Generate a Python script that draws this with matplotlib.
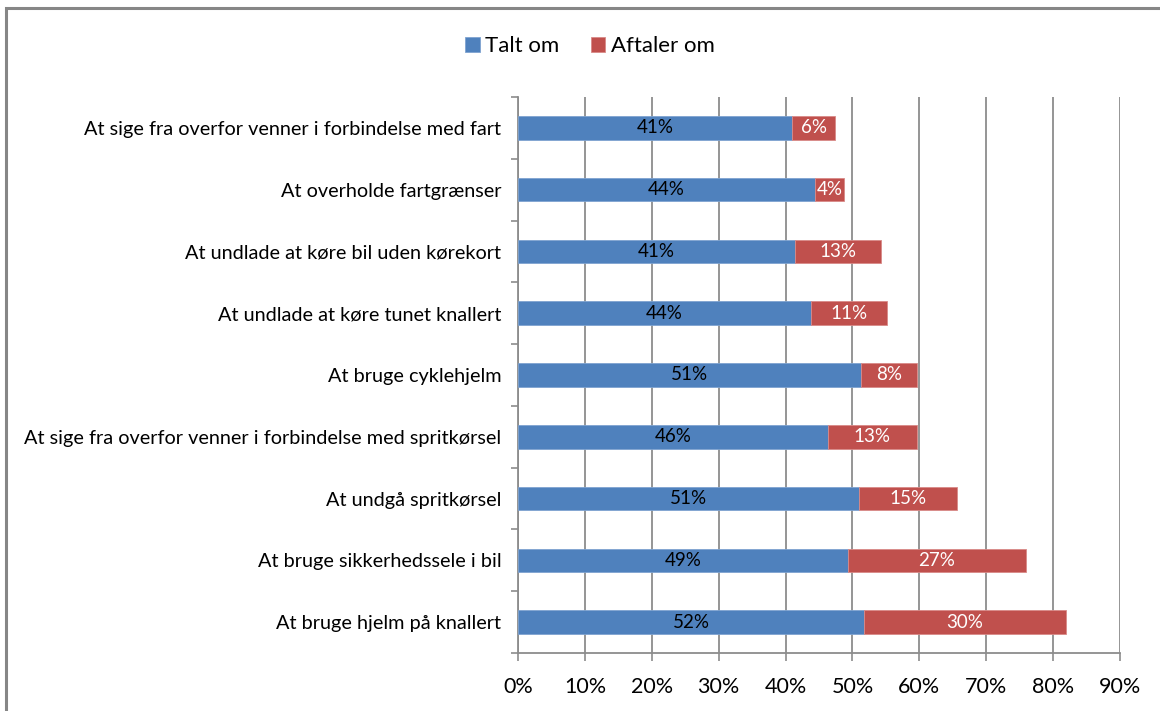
import matplotlib.pyplot as plt
from matplotlib.patches import Rectangle

plt.rcParams['font.family'] = ['Lato', 'DejaVu Sans']

categories = [
    "At sige fra overfor venner i forbindelse med fart",
    "At overholde fartgrænser",
    "At undlade at køre bil uden kørekort",
    "At undlade at køre tunet knallert",
    "At bruge cyklehjelm",
    "At sige fra overfor venner i forbindelse med spritkørsel",
    "At undgå spritkørsel",
    "At bruge sikkerhedssele i bil",
    "At bruge hjelm på knallert",
]
talt_om = [41.0, 44.4, 41.4, 43.8, 51.3, 46.3, 51.0, 49.3, 51.7]
aftaler_om = [6.4, 4.4, 12.9, 11.4, 8.4, 13.3, 14.6, 26.6, 30.2]

blue = '#4F81BD'
red = '#C0504D'
grid_col = '#8C8C8C'

fig = plt.figure(figsize=(11.6, 7.11), dpi=100)
ax = fig.add_axes([518 / 1160, 1 - 653 / 711, (1120 - 518) / 1160, (653 - 97) / 711])

# outer chart border (runs off the right and bottom of the image)
fig.patches.append(Rectangle((6 / 1160, -0.1), 1.2, 1 - 8 / 711 + 0.1,
                             transform=fig.transFigure, fill=False,
                             edgecolor='#868686', linewidth=2.2, zorder=0))

y = list(range(len(categories)))
bh = 0.38
b1 = ax.barh(y, talt_om, height=bh, color=blue, edgecolor='#7FA3D0', linewidth=0.6,
             label='Talt om', zorder=3)
b2 = ax.barh(y, aftaler_om, left=talt_om, height=bh, color=red, edgecolor='#D98A88',
             linewidth=0.6, label='Aftaler om', zorder=3)

for i in y:
    ax.text(talt_om[i] / 2, i, f"{round(talt_om[i])}%", ha='center', va='center',
            fontsize=13.5, color='black', zorder=4)
    ax.text(talt_om[i] + aftaler_om[i] / 2, i, f"{round(aftaler_om[i])}%", ha='center',
            va='center', fontsize=13.5, color='white', zorder=4)

ax.set_xlim(0, 90)
ax.set_ylim(len(categories) - 0.5, -0.5)
ax.set_xticks(range(0, 91, 10))
ax.set_xticklabels([f"{v}%" for v in range(0, 91, 10)], fontsize=15.5)
ax.set_yticks(y)
ax.set_yticklabels(categories, fontsize=14.3)
ax.set_yticks([i - 0.5 for i in range(len(categories) + 1)], minor=True)
ax.tick_params(axis='y', which='major', length=0, pad=12)
ax.tick_params(axis='y', which='minor', length=5, color=grid_col, width=1.2, direction='out')
ax.tick_params(axis='x', length=6, color=grid_col, width=1.2, pad=11)

ax.grid(axis='x', color=grid_col, linewidth=1.3, zorder=0)
ax.set_axisbelow(True)
for s in ['top', 'right']:
    ax.spines[s].set_visible(False)
for s in ['left', 'bottom']:
    ax.spines[s].set_color(grid_col)
    ax.spines[s].set_linewidth(1.3)

fig.legend(handles=[b1, b2], loc='center', bbox_to_anchor=(590 / 1160, 1 - 46 / 711),
           ncol=2, frameon=False, fontsize=16, handlelength=0.65, handleheight=0.65,
           handletextpad=0.25, columnspacing=1.4)

fig.savefig('out.png', dpi=100)
